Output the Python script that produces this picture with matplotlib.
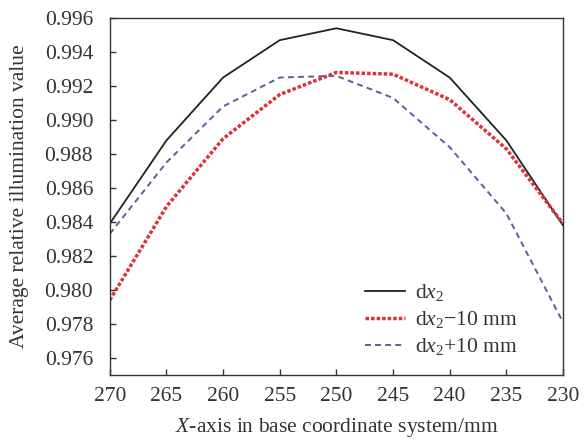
import matplotlib
matplotlib.use("Agg")
import matplotlib.pyplot as plt
import numpy as np

# X positions (mm) and the three illumination curves
x_pos = [270, 265, 260, 255, 250, 245, 240, 235, 230]
dx2 = [0.9839, 0.9888, 0.9925, 0.9947, 0.9954, 0.9947, 0.9925, 0.9888, 0.9838]
dx2_minus10 = [0.9794, 0.9849, 0.9889, 0.9915, 0.9928, 0.9927, 0.9912, 0.9883, 0.9839]
dx2_plus10 = [0.9833, 0.9875, 0.9908, 0.9925, 0.9926, 0.9913, 0.9884, 0.9845, 0.9781]

labels = ["d$x_2$", "d$x_2$\u221210 mm", "d$x_2$+10 mm"]

plt.rcParams["font.family"] = ["Liberation Serif", "DejaVu Serif"]
plt.rcParams["mathtext.fontset"] = "custom"
plt.rcParams["mathtext.rm"] = "Liberation Serif"
plt.rcParams["mathtext.it"] = "Liberation Serif:italic"

text_col = "#333333"
fs = 15.5

fig = plt.figure(figsize=(5.84, 4.41), dpi=100)
ax = fig.add_axes([0.188, 0.150, 0.776, 0.809])

ax.plot(x_pos, dx2, color="#222222", lw=1.3, label=labels[0])
ax.plot(x_pos, dx2_minus10, color="#e0303a", lw=2.5, linestyle=(0, (1, 0.6)), label=labels[1])
ax.plot(x_pos, dx2_plus10, color="#56609a", lw=1.4, linestyle=(0, (3, 2.2)), label=labels[2])

ax.set_xlim(270, 230)
ax.set_ylim(0.975, 0.996)
ax.set_xticks(np.arange(270, 229, -5))
yt = np.arange(0.976, 0.9965, 0.002)
ax.set_yticks(yt)
ax.set_yticklabels([f"{v:.3f}" for v in yt])

ax.tick_params(direction="in", length=4, width=1, labelsize=fs, colors=text_col,
               labelcolor=text_col)
ax.tick_params(axis="x", pad=9)
ax.tick_params(axis="y", pad=12)
for s in ax.spines.values():
    s.set_color("#333333")
    s.set_linewidth(1)

ax.set_xlabel("$X$-axis in base coordinate system/mm", fontsize=fs, color=text_col, labelpad=7)
ax.set_ylabel("Average relative illumination value", fontsize=fs, color=text_col, labelpad=11)

ax.legend(loc="lower right", bbox_to_anchor=(0.942, -0.005), frameon=False, fontsize=fs,
          handlelength=1.85, handletextpad=0.45, labelspacing=0.28, labelcolor=text_col)

fig.savefig("out.png", dpi=100)
